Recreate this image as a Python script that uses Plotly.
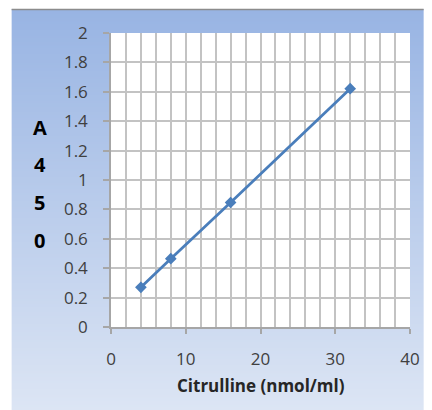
import base64, struct, zlib
import plotly.graph_objects as go

# Data
citrulline = [4, 8, 16, 32]
a450 = [0.27, 0.465, 0.847, 1.621]
x_ticks = [0, 10, 20, 30, 40]
y_ticks = [0, 0.2, 0.4, 0.6, 0.8, 1, 1.2, 1.4, 1.6, 1.8, 2]
y_title_letters = ["A", "4", "5", "0"]
x_title = "Citrulline (nmol/ml)"

W, H = 432, 410
L, T = 111, 33
R = W - 418
B = H - 327
pw, ph = W - L - R, H - T - B

def px(xs):
    return (xs - L) / pw

def py(ys):
    return (H - B - ys) / ph

# gradient background image with a white hole for the plot area
def background_png(top, bottom, x0, y0):
    iw, ih = W - x0, H - y0
    rows = bytearray()
    for j in range(ih):
        t = j / (ih - 1)
        c = bytes(round(top[k] + (bottom[k] - top[k]) * t) for k in range(3))
        yy = j + y0
        rows += b"\x00"
        if T <= yy < H - B:
            left = L - x0
            right = W - R - x0
            rows += c * left + b"\xff\xff\xff" * (right - left) + c * (iw - right)
        else:
            rows += c * iw
    def chunk(tag, data):
        return struct.pack(">I", len(data)) + tag + data + struct.pack(">I", zlib.crc32(tag + data) & 0xffffffff)
    png = b"\x89PNG\r\n\x1a\n"
    png += chunk(b"IHDR", struct.pack(">IIBBBBB", iw, ih, 8, 2, 0, 0, 0))
    png += chunk(b"IDAT", zlib.compress(bytes(rows), 9))
    png += chunk(b"IEND", b"")
    return "data:image/png;base64," + base64.b64encode(png).decode()

bx0, by0 = 9, 9

fig = go.Figure()
fig.add_trace(go.Scatter(
    x=citrulline, y=a450, mode="lines+markers",
    line=dict(color="#4A7EBB", width=2.75),
    marker=dict(symbol="diamond", size=9, color="#4A7EBB"),
    showlegend=False, cliponaxis=False, hoverinfo="skip",
))

font_family = "Open Sans, Liberation Sans, sans-serif"

fig.update_layout(
    width=W, height=H,
    margin=dict(l=L, r=R, t=T, b=B),
    paper_bgcolor="white",
    plot_bgcolor="white",
    font=dict(family=font_family, color="#404040"),
    xaxis=dict(
        range=[0, 40], tickvals=x_ticks, ticktext=[str(v) for v in x_ticks],
        showgrid=True, gridcolor="#C3C3C3", gridwidth=1.6,
        minor=dict(dtick=2, showgrid=True, gridcolor="#C3C3C3", gridwidth=1.6),
        showline=True, linecolor="#A6A6A6", linewidth=1.5,
        ticks="outside", ticklen=5, tickcolor="#A6A6A6", tickwidth=1.5,
        ticklabelstandoff=11,
        tickfont=dict(size=17, color="#404040"),
        zeroline=False, fixedrange=True,
    ),
    yaxis=dict(
        range=[0, 2], tickvals=y_ticks, ticktext=[f"{v:g}" for v in y_ticks],
        showgrid=True, gridcolor="#C3C3C3", gridwidth=1.6,
        showline=True, linecolor="#A6A6A6", linewidth=1.5,
        ticks="outside", ticklen=6, tickcolor="#A6A6A6", tickwidth=1.5,
        ticklabelstandoff=12,
        tickfont=dict(size=17, color="#404040"),
        zeroline=False, fixedrange=True,
    ),
    images=[dict(
        source=background_png((152, 180, 227), (220, 229, 244), bx0, by0),
        xref="paper", yref="paper",
        x=(bx0 - L) / pw, y=(H - B - by0) / ph,
        sizex=(W - bx0) / pw, sizey=(H - by0) / ph,
        xanchor="left", yanchor="top", sizing="stretch", layer="below",
    )],
    shapes=[dict(
        type="line", xref="paper", yref="paper",
        x0=(bx0 - L) / pw, x1=(W - L) / pw, y0=py(9.5), y1=py(9.5),
        line=dict(color="#8C8C8C", width=1.5),
    )],
)

annotations = []
for letter, ypix in zip(y_title_letters, [127, 164, 202, 240]):
    annotations.append(dict(
        text=f"<b>{letter}</b>", xref="paper", yref="paper",
        x=px(38), y=py(ypix), showarrow=False,
        xanchor="center", yanchor="middle",
        font=dict(size=20, color="black", family=font_family),
    ))
annotations.append(dict(
    text=f"<b>{x_title}</b>", xref="paper", yref="paper",
    x=px(265), y=py(385), showarrow=False,
    xanchor="center", yanchor="middle",
    font=dict(size=17, color="#262626", family=font_family),
))
fig.update_layout(annotations=annotations)

fig.write_html(
    "out.html",
    config={"displayModeBar": False},
    post_script="document.body.style.margin='0';document.body.style.overflow='hidden';",
)
